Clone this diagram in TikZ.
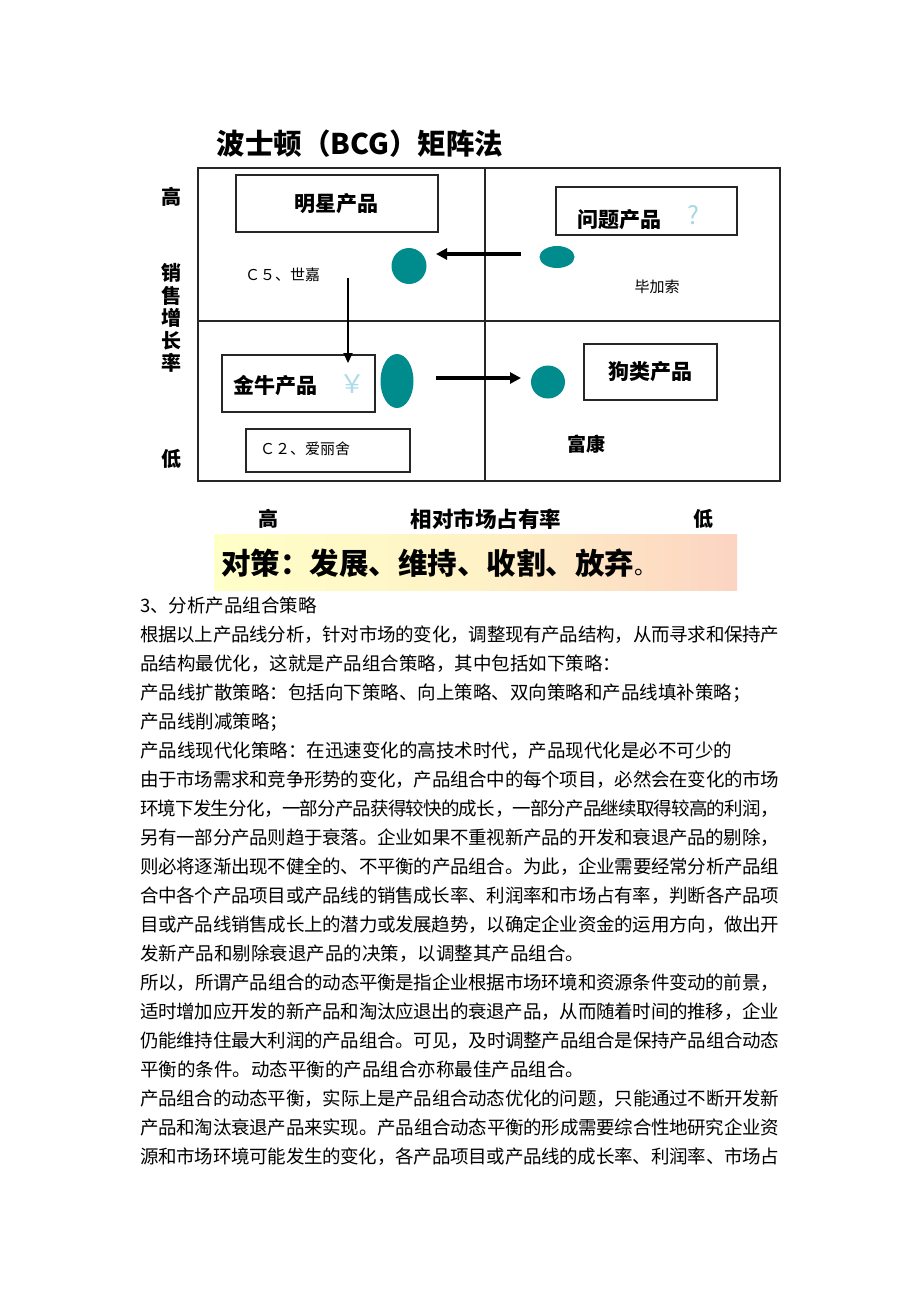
\documentclass[tikz,border=0pt]{standalone}
\usepackage{fontspec}
\setmainfont{Noto Sans CJK SC}
\usetikzlibrary{arrows.meta,shapes.geometric}
\definecolor{tealc}{RGB}{0,140,140}
\definecolor{qblue}{RGB}{165,215,228}
\definecolor{bandL}{RGB}{255,255,200}
\definecolor{bandR}{RGB}{252,212,194}
\newcommand\jline[1]{\parbox[t]{639pt}{\XeTeXlinebreaklocale "zh"\XeTeXlinebreakskip=0pt plus 3pt minus 2pt\relax\parfillskip=0pt\relax #1}}
\tikzset{
  body/.style={anchor=base west, inner sep=0pt, font=\fontsize{18.5}{29}\selectfont},
  boxed/.style={draw=black!85, line width=1.3pt, inner sep=0pt},
  lab/.style={inner sep=0pt, font=\fontsize{21}{24}\selectfont\bfseries},
  small/.style={inner sep=0pt, font=\fontsize{15}{18}\selectfont},
  axis/.style={inner sep=0pt, font=\fontsize{20}{22.5}\selectfont\bfseries},
  dot/.style={ellipse, fill=tealc, inner sep=0pt},
  bigarrow/.style={line width=3.2pt, -{Triangle[length=11pt,width=11pt]}},
  thinarrow/.style={line width=2pt, -{Triangle[length=10pt,width=9pt]}},
}
\begin{document}
\begin{tikzpicture}[x=1pt,y=-1pt]
\useasboundingbox (0,0) rectangle (920,1302);
\fill[white] (0,0) rectangle (920,1302);
% title
\node[inner sep=0pt, font=\fontsize{28.5}{34}\selectfont\bfseries] (title) at (360,144) {波士顿（BCG）矩阵法};
% matrix frame
\node[boxed, minimum width=582pt, minimum height=313pt] (frame) at (489,324.5) {};
\coordinate (vtop) at (485,168);
\coordinate (vbot) at (485,481);
\draw[line width=1.3pt, black!85] (vtop) -- (vbot);
\coordinate (hl) at (198,321);
\coordinate (hr) at (780,321);
\draw[line width=1.3pt, black!85] (hl) -- (hr);
% boxes
\node[boxed, minimum width=202pt, minimum height=57pt] (starbox) at (337,203.5) {};
\node[lab] (startext) at (336,204) {明星产品};
\node[boxed, minimum width=181pt, minimum height=48pt] (qbox) at (646.5,211) {};
\node[lab] (qtext) at (619,220) {问题产品};
\node[inner sep=0pt, font=\fontsize{25}{28}\selectfont, text=qblue] (qmark) at (693,215) {?};
\node[boxed, minimum width=153pt, minimum height=57pt] (cowbox) at (298.5,383.5) {};
\node[lab] (cowtext) at (275,386) {金牛产品};
\node[inner sep=0pt, font=\fontsize{26}{28}\selectfont, text=qblue!90] (yen) at (352,384) {￥};
\node[boxed, minimum width=133pt, minimum height=56pt] (dogbox) at (650.5,372) {};
\node[lab] (dogtext) at (650,372) {狗类产品};
\node[boxed, minimum width=164pt, minimum height=43pt] (c2box) at (328,450.5) {};
\node[small, anchor=west] (c2text) at (260,449) {Ｃ２、爱丽舍};
\node[small, anchor=west] (c5text) at (245,275) {Ｃ５、世嘉};
\node[small] (bjs) at (657,287) {毕加索};
\node[inner sep=0pt, font=\fontsize{19}{22}\selectfont\bfseries] (fk) at (586,444) {富康};
% dots
\node[dot, minimum width=35pt, minimum height=36pt] (sdot) at (409,266) {};
\node[dot, minimum width=35pt, minimum height=22pt] (qdot) at (557,257) {};
\node[dot, minimum width=33pt, minimum height=54pt] (cdot) at (397,381) {};
\node[dot, minimum width=34pt, minimum height=33pt] (ddot) at (548,382) {};
% arrows
\coordinate (a1s) at (521,254);
\coordinate (a1e) at (436,254);
\draw[bigarrow] (a1s) -- (a1e);
\coordinate (a2s) at (436,378);
\coordinate (a2e) at (521,378);
\draw[bigarrow] (a2s) -- (a2e);
\coordinate (a3s) at (348,278);
\coordinate (a3e) at (348,363);
\draw[thinarrow] (a3s) -- (a3e);
% axes labels
\node[axis] (yhi) at (171,197) {高};
\node[axis, align=center] (ylab) at (171,318) {销\\售\\增\\长\\率};
\node[axis] (ylo) at (171,459) {低};
\node[axis] (xhi) at (268,519) {高};
\node[axis, font=\fontsize{21.5}{24}\selectfont\bfseries] (xlab) at (486,519) {相对市场占有率};
\node[axis] (xlo) at (703,519) {低};
% band
\shade[left color=bandL, right color=bandR, middle color=bandL!70!bandR] (214,534) rectangle (737,590);
\node[anchor=west, inner sep=0pt, font=\fontsize{29.5}{33}\selectfont\bfseries] (policy) at (221,563) {对策：发展、维持、收割、放弃{\mdseries\fontsize{22}{24}\selectfont 。}};
% body text
\node[body] (l0) at (140,612.00) {3、分析产品组合策略};
\node[body] (l1) at (140,641.05) {\jline{根据以上产品线分析，针对市场的变化，调整现有产品结构，从而寻求和保持产}};
\node[body] (l2) at (140,670.10) {品结构最优化，这就是产品组合策略，其中包括如下策略：};
\node[body] (l3) at (140,699.15) {产品线扩散策略：包括向下策略、向上策略、双向策略和产品线填补策略；};
\node[body] (l4) at (140,728.20) {产品线削减策略；};
\node[body] (l5) at (140,757.25) {产品线现代化策略：在迅速变化的高技术时代，产品现代化是必不可少的};
\node[body] (l6) at (140,786.30) {\jline{由于市场需求和竞争形势的变化，产品组合中的每个项目，必然会在变化的市场}};
\node[body] (l7) at (140,815.35) {\jline{环境下发生分化，一部分产品获得较快的成长，一部分产品继续取得较高的利润，}};
\node[body] (l8) at (140,844.40) {\jline{另有一部分产品则趋于衰落。企业如果不重视新产品的开发和衰退产品的剔除，}};
\node[body] (l9) at (140,873.45) {\jline{则必将逐渐出现不健全的、不平衡的产品组合。为此，企业需要经常分析产品组}};
\node[body] (l10) at (140,902.50) {\jline{合中各个产品项目或产品线的销售成长率、利润率和市场占有率，判断各产品项}};
\node[body] (l11) at (140,931.55) {\jline{目或产品线销售成长上的潜力或发展趋势，以确定企业资金的运用方向，做出开}};
\node[body] (l12) at (140,960.60) {发新产品和剔除衰退产品的决策，以调整其产品组合。};
\node[body] (l13) at (140,989.65) {\jline{所以，所谓产品组合的动态平衡是指企业根据市场环境和资源条件变动的前景，}};
\node[body] (l14) at (140,1018.70) {\jline{适时增加应开发的新产品和淘汰应退出的衰退产品，从而随着时间的推移，企业}};
\node[body] (l15) at (140,1047.75) {\jline{仍能维持住最大利润的产品组合。可见，及时调整产品组合是保持产品组合动态}};
\node[body] (l16) at (140,1076.80) {平衡的条件。动态平衡的产品组合亦称最佳产品组合。};
\node[body] (l17) at (140,1105.85) {\jline{产品组合的动态平衡，实际上是产品组合动态优化的问题，只能通过不断开发新}};
\node[body] (l18) at (140,1134.90) {\jline{产品和淘汰衰退产品来实现。产品组合动态平衡的形成需要综合性地研究企业资}};
\node[body] (l19) at (140,1163.95) {\jline{源和市场环境可能发生的变化，各产品项目或产品线的成长率、利润率、市场占}};
\end{tikzpicture}
\end{document}
